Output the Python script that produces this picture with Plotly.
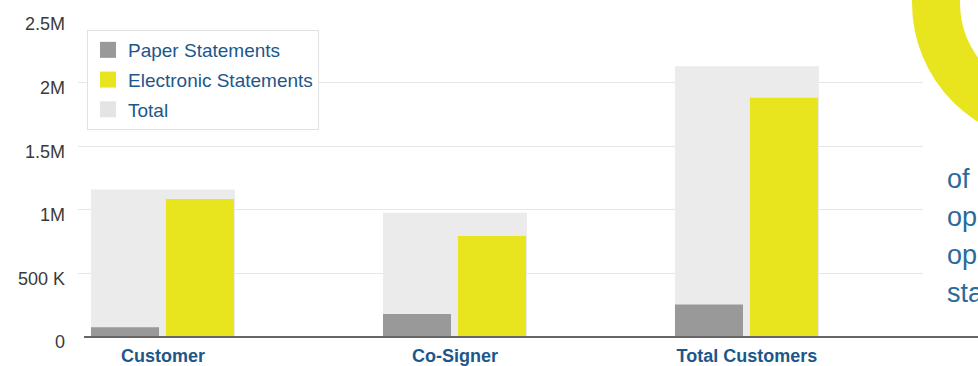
import plotly.graph_objects as go

# Statement delivery by account holder type
categories = ["Customer", "Co-Signer", "Total Customers"]
paper_statements = [76000, 180000, 256000]
electronic_statements = [1085000, 795000, 1880000]
total_statements = [1160000, 976000, 2128000]

y_tickvals = [0, 500000, 1000000, 1500000, 2000000, 2500000]
y_ticktext = ["0", "500 K", "1M", "1.5M", "2M", "2.5M"]

side_text = ["of", "op", "op", "sta"]

PAPER_COLOR = "#999999"
ELECTRONIC_COLOR = "#e8e51e"
TOTAL_COLOR = "#eaebea"
TOTAL_SWATCH = "#e3e4e6"
BLUE = "#1d578a"

W, H = 978, 366
L, R, T, B = 78, 55, 19, 29
PW, PH = W - L - R, H - T - B


def px_x(px):
    return (px - L) / PW


def px_y(py):
    return (H - B - py) / PH


fig = go.Figure()

# wide background bar for the total, with the two components inside it
fig.add_trace(go.Bar(
    x=categories, y=total_statements, name="Total",
    marker=dict(color=TOTAL_COLOR, line=dict(width=0)),
    width=0.493, offset=-0.2465, showlegend=False,
))
fig.add_trace(go.Bar(
    x=categories, y=paper_statements, name="Paper Statements",
    marker=dict(color=PAPER_COLOR, line=dict(width=0)),
    width=0.233, offset=-0.2465, showlegend=False,
))
fig.add_trace(go.Bar(
    x=categories, y=electronic_statements, name="Electronic Statements",
    marker=dict(color=ELECTRONIC_COLOR, line=dict(width=0)),
    width=0.233, offset=0.0103, showlegend=False,
))

# legend entries with larger square swatches
for i, (name, color) in enumerate([("Paper Statements", PAPER_COLOR),
                                   ("Electronic Statements", ELECTRONIC_COLOR),
                                   ("Total", TOTAL_SWATCH)]):
    fig.add_trace(go.Scatter(
        x=[None], y=[None], mode="markers", name=name, legendgroup=f"g{i}",
        marker=dict(symbol="square", size=16, color=color, line=dict(width=0)),
    ))

shapes = [
    # baseline running to the right edge
    dict(type="line", xref="paper", yref="paper",
         x0=px_x(84), x1=px_x(980), y0=0, y1=0,
         line=dict(color="#666666", width=2), layer="above"),
    # decorative ring in the upper right corner
    dict(type="circle", xref="paper", yref="paper",
         x0=px_x(912), x1=px_x(1192), y0=px_y(143), y1=px_y(-137),
         fillcolor=ELECTRONIC_COLOR, line=dict(width=0), layer="above"),
    dict(type="circle", xref="paper", yref="paper",
         x0=px_x(960), x1=px_x(1144), y0=px_y(95), y1=px_y(-89),
         fillcolor="white", line=dict(width=0), layer="above"),
]

annotations = []
for i, word in enumerate(side_text):
    annotations.append(dict(
        xref="paper", yref="paper", x=px_x(945), y=px_y(179 + 38 * i),
        xanchor="left", yanchor="middle", showarrow=False, text=word,
        font=dict(family="Liberation Sans, Arial, sans-serif", size=27, color="#2b6b9c"),
    ))

fig.update_layout(
    width=W, height=H,
    margin=dict(l=L, r=R, t=T, b=B, pad=0, autoexpand=False),
    paper_bgcolor="white", plot_bgcolor="white",
    barmode="overlay",
    font=dict(family="Liberation Sans, Arial, sans-serif"),
    xaxis=dict(
        type="category", range=[-0.291, 2.603], automargin=False,
        showgrid=False, showline=False, zeroline=False, ticks="",
        tickfont=dict(size=18, color=BLUE, weight="bold"),
        ticklabelstandoff=6,
    ),
    yaxis=dict(
        range=[0, 2500000], tickvals=y_tickvals, ticktext=y_ticktext,
        automargin=False,
        showgrid=True, gridcolor="#e6e6e6", gridwidth=1,
        zeroline=False, showline=False, ticks="",
        tickfont=dict(size=18, color="#3a3a3a"),
        ticklabelstandoff=12, ticklabelshift=5,
    ),
    legend=dict(
        x=px_x(87), y=px_y(30), xanchor="left", yanchor="top",
        bgcolor="white", bordercolor="#e2e2e2", borderwidth=1,
        font=dict(size=19, color=BLUE),
        traceorder="grouped", tracegroupgap=2,
    ),
    shapes=shapes,
    annotations=annotations,
)

fig.write_html("out.html")
